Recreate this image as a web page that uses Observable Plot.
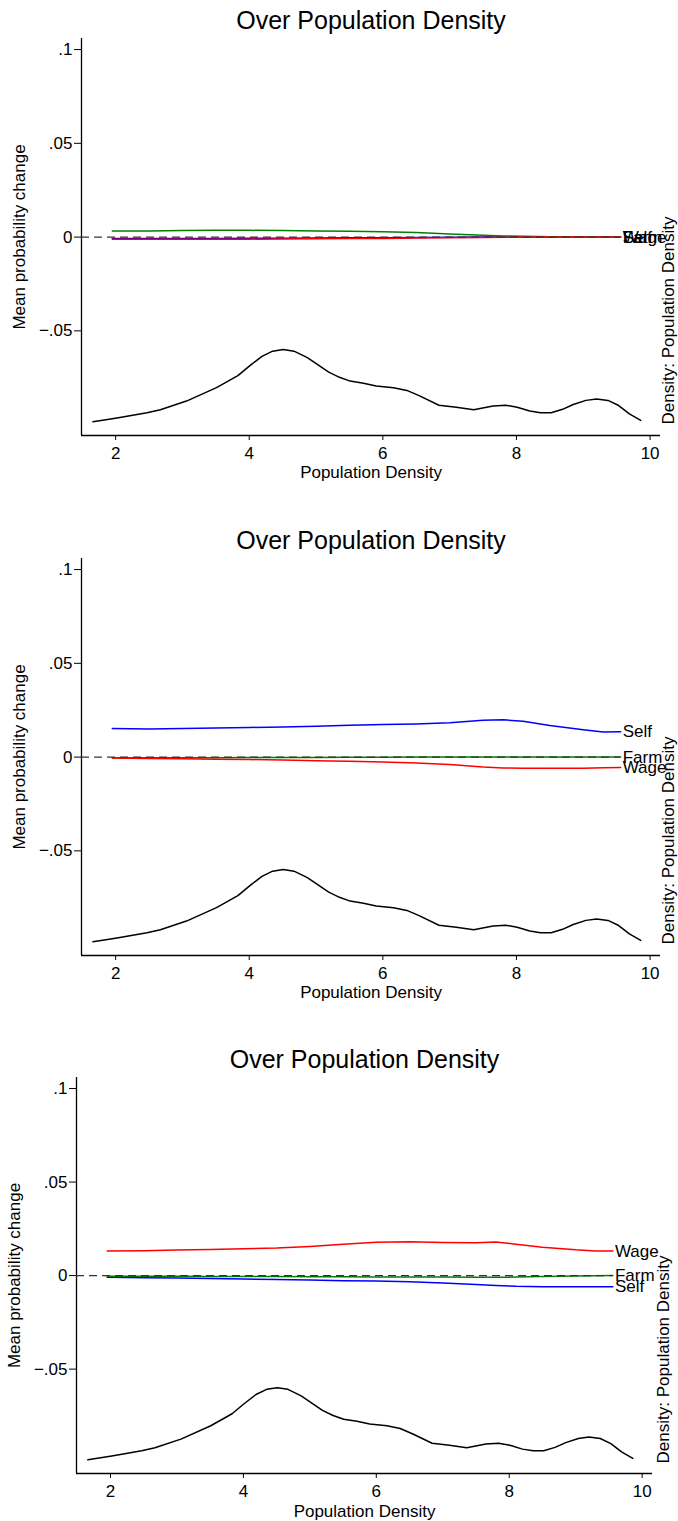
<!DOCTYPE html>
<html>
<head>
<meta charset="utf-8">
<script src="https://cdn.jsdelivr.net/npm/d3@7"></script>
<script src="https://cdn.jsdelivr.net/npm/@observablehq/plot@0.6"></script>
<style>
  html, body { margin: 0; padding: 0; background: white; }
  #chart svg { display: block; }
</style>
</head>
<body>
<div id="chart"></div>
<script>
// ---------- data ----------
const categories = ["Self", "Farm", "Wage"];
const xGrid = [1.95, 2.5, 3, 3.5, 4, 4.5, 5, 5.5, 6, 6.5, 7, 7.5, 7.8, 8.1, 8.5, 9, 9.3, 9.56];

// Panel 1
const p1Self = [-0.0008, -0.0008, -0.0007, -0.0007, -0.0006, -0.0006, -0.0005, -0.0004, -0.0003, -0.0002, -0.0001, 0, 0, 0, 0, 0, 0, 0];
const p1Farm = [0.0032, 0.0033, 0.0035, 0.0036, 0.0036, 0.0035, 0.0033, 0.0031, 0.0028, 0.0024, 0.0017, 0.0010, 0.0006, 0.0004, 0.0002, 0.0001, 0, 0];
const p1Wage = [-0.0012, -0.0012, -0.0012, -0.0011, -0.0011, -0.0010, -0.0009, -0.0008, -0.0007, -0.0005, -0.0003, -0.0002, -0.0001, 0, 0, 0, 0, 0];

// Panel 2
const p2Self = [0.0153, 0.0150, 0.0153, 0.0155, 0.0158, 0.0161, 0.0165, 0.0170, 0.0174, 0.0177, 0.0183, 0.0196, 0.0199, 0.0191, 0.0168, 0.0146, 0.0134, 0.0135];
const p2Farm = [-0.0003, -0.0003, -0.0003, -0.0003, -0.0002, -0.0002, -0.0002, -0.0001, -0.0001, 0, 0.0001, 0.0001, 0.0001, 0.0001, 0, 0, 0, 0];
const p2Wage = [-0.0005, -0.0007, -0.0009, -0.0011, -0.0013, -0.0016, -0.0019, -0.0022, -0.0026, -0.0032, -0.0040, -0.0053, -0.0058, -0.0060, -0.0060, -0.0059, -0.0057, -0.0056];

// Panel 3
const p3Self = [-0.0009, -0.0011, -0.0013, -0.0015, -0.0018, -0.0021, -0.0024, -0.0027, -0.0029, -0.0033, -0.0040, -0.0048, -0.0053, -0.0057, -0.0059, -0.0059, -0.0059, -0.0059];
const p3Farm = [-0.0004, -0.0004, -0.0004, -0.0005, -0.0005, -0.0005, -0.0006, -0.0006, -0.0007, -0.0007, -0.0008, -0.0009, -0.0009, -0.0008, -0.0005, -0.0002, -0.0001, 0];
const p3Wage = [0.0131, 0.0133, 0.0137, 0.0140, 0.0143, 0.0147, 0.0156, 0.0168, 0.0178, 0.0181, 0.0177, 0.0176, 0.0179, 0.0168, 0.0152, 0.0138, 0.0132, 0.0131];

// Kernel density of population density (secondary axis)
const densX = [1.66, 2.02, 2.47, 2.67, 3.06, 3.51, 3.83, 4.01, 4.19, 4.35, 4.51, 4.67, 4.87, 5.19, 5.35, 5.51, 5.71, 5.90, 6.16, 6.36, 6.55, 6.84, 7.10, 7.36, 7.65, 7.84, 8.01, 8.20, 8.36, 8.52, 8.69, 8.85, 9.04, 9.20, 9.37, 9.53, 9.69, 9.86];
const densY = [0.040, 0.051, 0.066, 0.075, 0.100, 0.139, 0.174, 0.203, 0.230, 0.245, 0.250, 0.245, 0.226, 0.184, 0.169, 0.158, 0.152, 0.144, 0.139, 0.131, 0.115, 0.088, 0.082, 0.075, 0.086, 0.088, 0.082, 0.071, 0.066, 0.066, 0.076, 0.090, 0.102, 0.106, 0.102, 0.087, 0.063, 0.044];

// ticks
const xTicks = [2, 4, 6, 8, 10];
const yTicks = [-0.05, 0, 0.05, 0.1];
const yTickLabels = ["\u2212.05", "0", ".05", ".1"];

// ---------- styles / layout ----------
const seriesColors = ["#0000ff", "#008000", "#ff0000"];
const xDomain = [1.489, 10.156];
const yDomain = [-0.1058, 0.1059];
const densDomain = [0, 1];
const titleText = "Over Population Density";
const xLabel = "Population Density";
const yLabel = "Mean probability change";
const y2Label = "Density: Population Density";

// density (secondary axis) mapped onto the primary y scale
const densToY = d3.scaleLinear().domain(densDomain).range([yDomain[0], yDomain[0] + 0.1836]);

function panel({self, farm, wage, height, marginLeft, marginRight, yLabelX, y2LabelX, plotBottom}) {
  const rows = [];
  [["Self", self], ["Farm", farm], ["Wage", wage]].forEach(([name, vals]) =>
    vals.forEach((v, i) => rows.push({series: name, x: xGrid[i], y: v})));
  const ends = categories.map(c => rows.filter(r => r.series === c).at(-1));
  const dens = densX.map((x, i) => ({x, y: densToY(densY[i])}));
  const marginTop = 38;
  const frameMid = (marginTop + plotBottom) / 2;
  return Plot.plot({
    width: 678,
    height,
    marginTop,
    marginBottom: height - plotBottom,
    marginLeft,
    marginRight,
    style: {fontFamily: "'Liberation Sans', Arial, sans-serif", fontSize: "17px", color: "black", background: "white", overflow: "visible"},
    x: {domain: xDomain},
    y: {domain: yDomain},
    color: {domain: categories, range: seriesColors},
    marks: [
      Plot.ruleX([xDomain[0]], {stroke: "black", strokeWidth: 1.3}),
      Plot.ruleY([yDomain[0]], {stroke: "black", strokeWidth: 1.3}),
      Plot.axisY({ticks: yTicks, tickFormat: d => yTickLabels[yTicks.indexOf(d)], tickSize: 7, tickPadding: 2, label: null, fontSize: 17}),
      Plot.axisX({ticks: xTicks, tickFormat: d => String(d), tickSize: 5, tickPadding: 6, label: null, fontSize: 17}),
      Plot.line(dens, {x: "x", y: "y", stroke: "black", strokeWidth: 1.5}),
      Plot.line(rows, {x: "x", y: "y", z: "series", stroke: "series", strokeWidth: 1.5}),
      Plot.ruleY([{y: 0, x1: xDomain[0], x2: xGrid[xGrid.length - 1]}], {y: "y", x1: "x1", x2: "x2", stroke: "#333", strokeWidth: 1.2, strokeDasharray: "8,5"}),
      Plot.text(ends, {x: "x", y: "y", text: "series", textAnchor: "start", dx: 2, fontSize: 17}),
      Plot.text([{t: titleText}], {text: "t", frameAnchor: "top", textAnchor: "middle", lineAnchor: "middle", dy: -18, fontSize: 25}),
      Plot.text([{t: xLabel}], {text: "t", frameAnchor: "bottom", textAnchor: "middle", lineAnchor: "middle", dy: 472 - plotBottom, fontSize: 17}),
      Plot.text([{t: yLabel}], {text: "t", frameAnchor: "left", textAnchor: "middle", lineAnchor: "middle", dx: yLabelX - marginLeft, rotate: -90, fontSize: 17}),
      Plot.text([{t: y2Label}], {text: "t", frameAnchor: "right", textAnchor: "middle", lineAnchor: "middle", dx: y2LabelX - (678 - marginRight), dy: 320 - frameMid, rotate: -90, fontSize: 17})
    ]
  });
}

const chart = document.getElementById("chart");
chart.append(panel({self: p1Self, farm: p1Farm, wage: p1Wage, height: 520, marginLeft: 81, marginRight: 18, yLabelX: 19, y2LabelX: 668, plotBottom: 435}));
chart.append(panel({self: p2Self, farm: p2Farm, wage: p2Wage, height: 519, marginLeft: 81, marginRight: 18, yLabelX: 19, y2LabelX: 668, plotBottom: 435}));
chart.append(panel({self: p3Self, farm: p3Farm, wage: p3Wage, height: 482, marginLeft: 76, marginRight: 26, yLabelX: 14, y2LabelX: 663, plotBottom: 434}));
</script>
</body>
</html>
